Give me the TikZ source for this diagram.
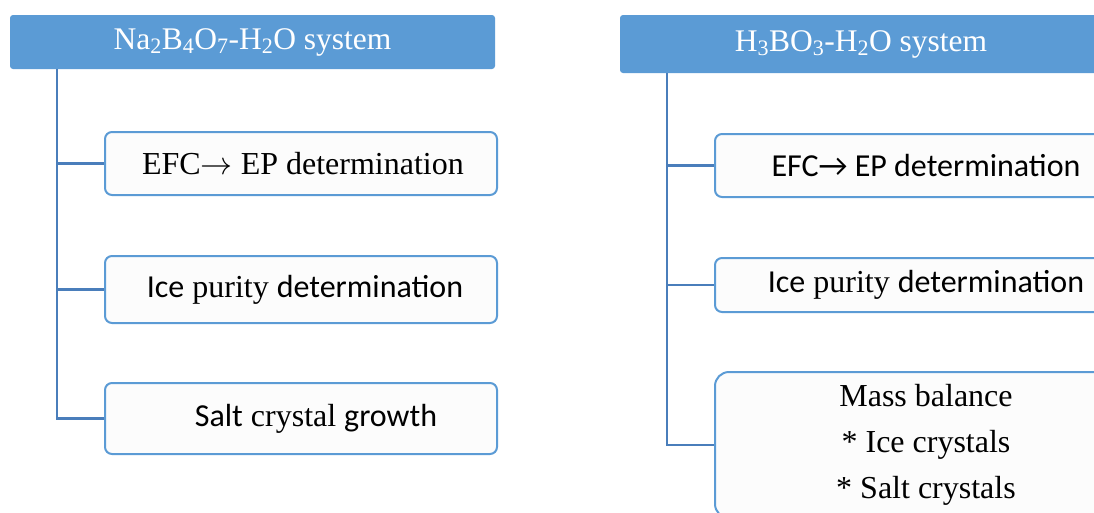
\RequirePackage{fix-cm}
\documentclass[tikz,border=0pt]{standalone}
\usepackage{fontspec}
\setmainfont{Liberation Serif}
\newfontfamily\calibri{Carlito}
\usepackage{xcolor}
\definecolor{headBlue}{HTML}{5B9BD5}
\definecolor{lineBlue}{HTML}{4A7EBB}
\definecolor{boxFill}{HTML}{FCFCFC}

\begin{document}
\begin{tikzpicture}[
		x=1pt, y=-1pt,
		head/.style={
			fill=headBlue,
			text=white,
			rounded corners=3pt,
			inner sep=0pt,
			font=\fontsize{31.5}{36}\selectfont
		},
		item/.style={
			draw=headBlue,
			fill=boxFill,
			line width=2pt,
			rounded corners=7pt,
			inner sep=0pt,
			align=center,
			font=\fontsize{32}{38}\selectfont
		},
		link/.style={draw=lineBlue, line width=2.4pt}
		]
		\clip (0,0) rectangle (1094,512);
		
		% Na2B4O7 branch
		\node[head, minimum width=485pt, minimum height=54pt] (hdA) at (252.5,42) {Na\textsubscript{2}B\textsubscript{4}O\textsubscript{7}-H\textsubscript{2}O system};
		\node[item, minimum width=392pt, minimum height=63pt] (efcA) at (301,163.5) {\hspace{4pt}EFC\(\rightarrow\) EP determination};
		\node[item, minimum width=392pt, minimum height=67pt] (iceA) at (301,289.5) {\hspace{8pt}{\calibri Ice} purity {\calibri determination}};
		\node[item, minimum width=392pt, minimum height=71pt] (saltA) at (301,418.5) {\hspace{30pt}{\calibri Salt} crystal {\calibri growth}};
		\coordinate (trunkA) at (57,0);
		
		% H3BO3 branch
		\node[head, minimum width=482pt, minimum height=58pt] (hdB) at (861,44) {H\textsubscript{3}BO\textsubscript{3}-H\textsubscript{2}O system};
		\node[item, minimum width=422pt, minimum height=63pt] (efcB) at (926,165.5) {\calibri EFC→ EP determination};
		\node[item, minimum width=422pt, minimum height=54pt] (iceB) at (926,285) {{\calibri Ice} purity {\calibri determination}};
		\node[item, minimum width=422pt, minimum height=146pt, rounded corners=14pt, font=\fontsize{32}{46}\selectfont] (massB) at (926,445) {Mass balance\\* Ice crystals\\* Salt crystals};
		\coordinate (trunkB) at (667,0);
		
		\draw[link] (hdA.south -| trunkA) |- (saltA.west);
		\draw[link] (trunkA |- efcA.west) -- (efcA.west);
		\draw[link] (trunkA |- iceA.west) -- (iceA.west);
		
		\draw[link] (hdB.south -| trunkB) |- (massB.west);
		\draw[link] (trunkB |- efcB.west) -- (efcB.west);
		\draw[link] (trunkB |- iceB.west) -- (iceB.west);
		
	\end{tikzpicture}
\end{document}
